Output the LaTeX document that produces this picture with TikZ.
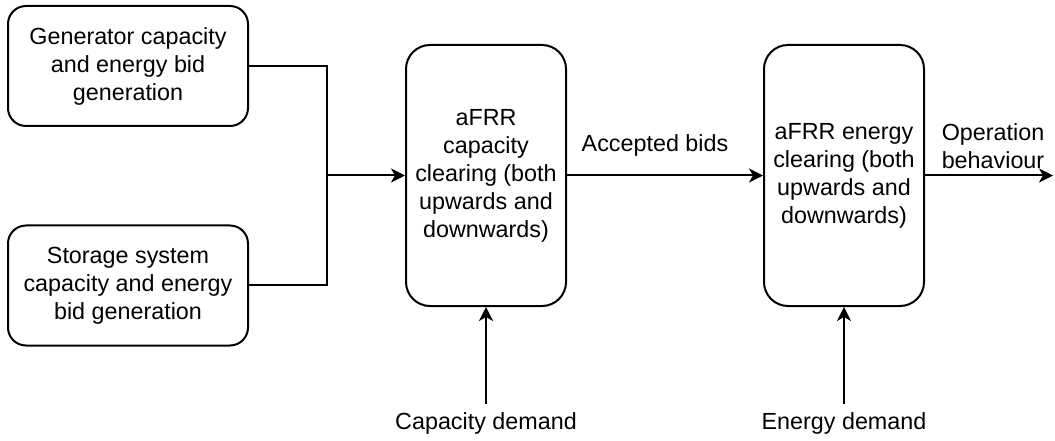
\documentclass[tikz,border=0pt]{standalone}
\usepackage{fontspec}
\setmainfont{Liberation Sans}
\usetikzlibrary{arrows.meta}
\begin{document}
\begin{tikzpicture}[x=0.75pt,y=-0.75pt,
  every node/.style={font=\fontsize{17.5}{21}\selectfont, text=black, align=center},
  sidebox/.style={draw, line width=1.5pt, rounded corners=13.5pt, minimum width=180pt, minimum height=90pt, inner sep=0pt},
  clearbox/.style={draw, line width=1.5pt, rounded corners=18pt, minimum width=120pt, minimum height=195.75pt, inner sep=0pt},
  wire/.style={line width=1.5pt},
  flow/.style={line width=1.5pt, -{Stealth[length=10.5pt,width=10.5pt,inset=3pt]}},
  lbl/.style={inner sep=0pt}
]
\useasboundingbox (0,0) rectangle (1055,441);

% input boxes
\node[sidebox] (gen) at (128,66) {Generator capacity\\and energy bid\\generation};
\node[sidebox] (sto) at (128,285.5) {Storage system\\capacity and energy\\bid generation};

% market clearing stages
\node[clearbox] (cap) at (486,175.5) {aFRR\\capacity\\clearing (both\\upwards and\\downwards)};
\node[clearbox] (ene) at (844,175.5) {aFRR energy\\clearing (both\\upwards and\\downwards)};

% merging the two bid streams
\coordinate (join) at (327,175.5);
\coordinate (out) at (1053,175.5);
\draw[wire] (gen.east) -| (join);
\draw[wire] (sto.east) -| (join);
\draw[flow] (join) -- (cap.west);

\draw[flow] (cap.east) -- (ene.west);
\node[lbl] (acc) at (655,145) {Accepted bids};

\draw[flow] (ene.east) -- (out);
\node[lbl] (op) at (993,146) {Operation\\behaviour};

% demand inputs
\node[lbl] (cdem) at (486,423) {Capacity demand};
\node[lbl] (edem) at (844,423) {Energy demand};
\draw[flow] ([yshift=6pt]cdem.north) -- (cap.south);
\draw[flow] ([yshift=6pt]edem.north) -- (ene.south);
\end{tikzpicture}
\end{document}
